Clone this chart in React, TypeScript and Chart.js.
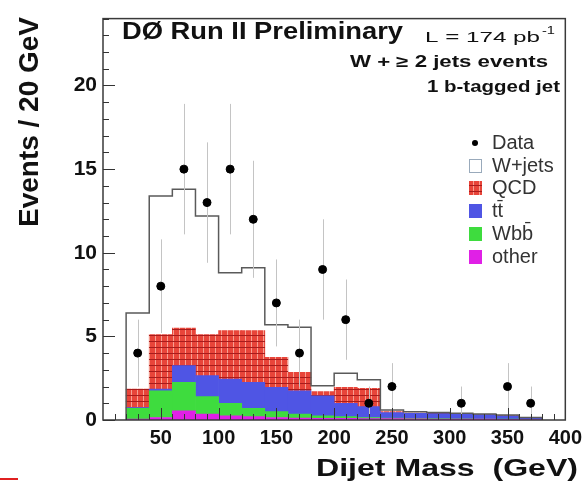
import { useEffect, useRef } from 'react';
import { Chart, registerables } from 'chart.js';

Chart.register(...registerables);

// ---- data ----
const binCenters = [30, 50, 70, 90, 110, 130, 150, 170, 190, 210, 230, 250, 270, 290, 310, 330, 350, 370];
const dataCounts = [4, 8, 15, 13, 15, 12, 7, 4, 9, 6, 1, 2, null, null, 1, null, 2, 1];
const dataErrors = [2.0, 2.8, 3.9, 3.6, 3.9, 3.5, 2.6, 2.0, 3.0, 2.4, 1.0, 1.4, null, null, 1.0, null, 1.4, 1.0];
const otherMC = [0.05, 0.15, 0.55, 0.35, 0.25, 0.2, 0.15, 0.12, 0.1, 0.1, 0.08, 0.08, 0.07, 0.06, 0.05, 0.05, 0.04, 0.02];
const wbbMC = [0.65, 1.6, 1.7, 1.05, 0.75, 0.5, 0.35, 0.23, 0.15, 0.1, 0.07, 0.04, 0.03, 0.02, 0.02, 0.01, 0.01, 0.01];
const ttMC = [0.05, 0.1, 1.0, 1.25, 1.45, 1.55, 1.45, 1.4, 1.2, 0.8, 0.65, 0.33, 0.3, 0.3, 0.28, 0.26, 0.2, 0.07];
const qcdMC = [1.1, 3.25, 2.25, 2.45, 2.9, 3.1, 1.8, 1.1, 0.25, 0.95, 1.1, 0.05, 0.02, 0.02, 0.02, 0.01, 0.01, 0.01];
const wjetsMC = [4.55, 8.3, 8.3, 7.1, 3.45, 3.75, 1.95, 2.7, 0.35, 0.85, 0.5, 0.1, 0.08, 0.05, 0.03, 0.03, 0.04, 0.04];
const BIN_WIDTH = 20;
const legendLabels = ['Data', 'W+jets', 'QCD', 'tt\u0304', 'Wbb\u0304', 'other'];

const COL_OTHER = '#e020e6';
const COL_WBB = '#3edc3e';
const COL_TT = '#4f55e4';
const COL_QCD = '#e8453a';

function makeHatch(): CanvasPattern | string {
  const c = document.createElement('canvas');
  c.width = 6;
  c.height = 6;
  const g = c.getContext('2d');
  if (!g) return COL_QCD;
  g.fillStyle = COL_QCD;
  g.fillRect(0, 0, 6, 6);
  g.fillStyle = '#f6a092';
  g.fillRect(5, 0, 1, 6);
  g.fillStyle = '#a81c1c';
  g.fillRect(0, 5, 6, 1);
  return g.createPattern(c, 'repeat') || COL_QCD;
}

function drawText(ctx: CanvasRenderingContext2D, text: string, x: number, y: number, font: string, align: string, width?: number, color = '#111') {
  ctx.save();
  ctx.font = font;
  ctx.fillStyle = color;
  ctx.textBaseline = 'middle';
  ctx.textAlign = 'left';
  const w = ctx.measureText(text).width;
  const sx = width ? width / w : 1;
  const x0 = align === 'left' ? x : align === 'right' ? x - w * sx : x - (w * sx) / 2;
  ctx.translate(x0, y);
  ctx.scale(sx, 1);
  ctx.fillText(text, 0, 0);
  ctx.restore();
}

export default function App() {
  const ref = useRef<HTMLCanvasElement | null>(null);

  useEffect(() => {
    if (!ref.current) return;
    const bars = (vals: number[]) => binCenters.map((x, i) => ({ x, y: vals[i] }));
    const totals = binCenters.map((_, i) => otherMC[i] + wbbMC[i] + ttMC[i] + qcdMC[i] + wjetsMC[i]);
    const outline: { x: number; y: number }[] = [{ x: binCenters[0] - BIN_WIDTH / 2, y: 0 }];
    binCenters.forEach((c, i) => outline.push({ x: c - BIN_WIDTH / 2, y: totals[i] }));
    outline.push({ x: binCenters[binCenters.length - 1] + BIN_WIDTH / 2, y: 0 });
    const points = binCenters
      .map((x, i) => ({ x, y: dataCounts[i] }))
      .filter((p) => p.y !== null) as { x: number; y: number }[];

    const overlay = {
      id: 'overlay',
      beforeDatasetDraw(chart: any, args: any) {
        if (args.index !== 0) return;
        const { ctx, scales } = chart;
        ctx.save();
        ctx.strokeStyle = '#c4c4c4';
        ctx.lineWidth = 1;
        binCenters.forEach((c, i) => {
          const v = dataCounts[i];
          const e = dataErrors[i];
          if (v === null || e === null) return;
          const px = Math.round(scales.x.getPixelForValue(c)) + 0.5;
          ctx.beginPath();
          ctx.moveTo(px, scales.y.getPixelForValue(Math.max(0, v - e)));
          ctx.lineTo(px, scales.y.getPixelForValue(v + e));
          ctx.stroke();
        });
        ctx.restore();
      },
      afterDatasetsDraw(chart: any) {
        const { ctx, chartArea: a, scales } = chart;
        ctx.save();
        ctx.strokeStyle = '#3a3a3a';
        ctx.lineWidth = 1.5;
        ctx.strokeRect(a.left, a.top, a.right - a.left, a.bottom - a.top);
        ctx.lineWidth = 1;
        ctx.strokeStyle = '#333';
        for (let v = 0; v <= 24; v += 1) {
          const py = Math.round(scales.y.getPixelForValue(v)) + 0.5;
          const len = v % 5 === 0 ? 12 : 6;
          ctx.beginPath();
          ctx.moveTo(a.left, py);
          ctx.lineTo(a.left + len, py);
          ctx.stroke();
        }
        for (let v = 10; v < 400; v += 10) {
          const px = Math.round(scales.x.getPixelForValue(v)) + 0.5;
          const len = v % 50 === 0 ? 12 : 6;
          ctx.beginPath();
          ctx.moveTo(px, a.bottom);
          ctx.lineTo(px, a.bottom - len);
          ctx.stroke();
        }
        ctx.restore();
      },
      afterDraw(chart: any) {
        const { ctx } = chart;
        // header texts
        drawText(ctx, 'D\u00D8 Run II Preliminary', 122, 33, 'bold 23px "Liberation Sans", Arial, sans-serif', 'left', 281);
        drawText(ctx, 'L = 174 pb', 425, 38, '15px "Liberation Sans", Arial, sans-serif', 'left', 115);
        drawText(ctx, '-1', 542, 31, '10px "Liberation Sans", Arial, sans-serif', 'left', 13);
        drawText(ctx, 'W + \u2265 2 jets events', 548, 63, 'bold 16px "Liberation Sans", Arial, sans-serif', 'right', 198);
        drawText(ctx, '1 b-tagged jet', 560, 88, 'bold 16px "Liberation Sans", Arial, sans-serif', 'right', 133);
        // axis titles
        ctx.save();
        ctx.translate(31, 122);
        ctx.rotate(-Math.PI / 2);
        drawText(ctx, 'Events / 20 GeV', 0, 0, 'bold 27px "Liberation Sans", Arial, sans-serif', 'center', 210);
        ctx.restore();
        drawText(ctx, 'Dijet Mass  (GeV)', 578, 469, 'bold 24px "Liberation Sans", Arial, sans-serif', 'right', 262);
        // legend
        const rows = [143, 166, 188, 211, 234, 257];
        const fills: (string | CanvasPattern)[] = ['', '#ffffff', chart.data.datasets[5].backgroundColor, COL_TT, COL_WBB, COL_OTHER];
        rows.forEach((ry, i) => {
          ctx.save();
          if (i === 0) {
            ctx.fillStyle = '#000';
            ctx.beginPath();
            ctx.arc(475, ry, 3, 0, Math.PI * 2);
            ctx.fill();
          } else {
            ctx.fillStyle = fills[i];
            ctx.fillRect(469, ry - 7, 13, 14);
            if (i === 1) {
              ctx.strokeStyle = '#9ab';
              ctx.lineWidth = 1;
              ctx.strokeRect(469.5, ry - 6.5, 12, 13);
            }
          }
          ctx.restore();
          drawText(ctx, legendLabels[i], 492, ry, '20px "Liberation Sans", Arial, sans-serif', 'left', undefined, '#333');
        });
        // small red mark at bottom-left corner
        ctx.save();
        ctx.strokeStyle = '#e02020';
        ctx.lineWidth = 2;
        ctx.beginPath();
        ctx.moveTo(0, 479);
        ctx.lineTo(18, 479);
        ctx.stroke();
        ctx.restore();
      },
    };

    const hatch = makeHatch();
    const chart = new Chart(ref.current, {
      type: 'bar',
      data: {
        datasets: [
          {
            type: 'line',
            label: 'Data',
            data: points,
            showLine: false,
            pointRadius: 4,
            pointBackgroundColor: '#000',
            pointBorderColor: '#000',
            borderColor: '#000',
            stack: 'data',
          } as any,
          {
            type: 'line',
            label: 'W+jets outline',
            data: outline,
            stepped: true,
            borderColor: '#5a5a5a',
            borderWidth: 1.5,
            pointRadius: 0,
            fill: false,
            stack: 'outline',
          } as any,
          { label: 'other', data: bars(otherMC), backgroundColor: COL_OTHER },
          { label: 'Wbb', data: bars(wbbMC), backgroundColor: COL_WBB },
          { label: 'tt', data: bars(ttMC), backgroundColor: COL_TT },
          { label: 'QCD', data: bars(qcdMC), backgroundColor: hatch },
          { label: 'W+jets', data: bars(wjetsMC), backgroundColor: '#ffffff' },
        ],
      },
      options: {
        responsive: false,
        animation: false,
        events: [],
        datasets: { bar: { barPercentage: 1, categoryPercentage: 1, borderWidth: 0 } },
        layout: { padding: { left: 0, top: 13, right: 19, bottom: 0 } },
        plugins: { legend: { display: false }, tooltip: { enabled: false } },
        scales: {
          x: {
            type: 'linear',
            min: 0,
            max: 400,
            stacked: true,
            offset: false,
            grid: { display: false, drawTicks: false },
            border: { display: false },
            ticks: {
              stepSize: 50,
              padding: 6,
              color: '#111',
              font: { family: '"Liberation Sans", Arial, sans-serif', size: 20, weight: 'bold' },
              callback: (v: any) => (v === 0 ? '' : String(v)),
              maxRotation: 0,
              autoSkip: false,
            },
            afterFit: (s: any) => {
              s.height = 68;
            },
          },
          y: {
            min: 0,
            max: 24,
            stacked: true,
            grid: { display: false, drawTicks: false },
            border: { display: false },
            ticks: {
              stepSize: 5,
              includeBounds: false,
              padding: 6,
              color: '#111',
              font: { family: '"Liberation Sans", Arial, sans-serif', size: 21, weight: 'bold' },
            },
            afterFit: (s: any) => {
              s.width = 103;
            },
          },
        },
      },
      plugins: [overlay],
    } as any);
    return () => chart.destroy();
  }, []);

  return (
    <div style={{ position: 'fixed', left: 0, top: 0, width: 588, height: 488, background: '#fff' }}>
      <canvas ref={ref} width={588} height={488} style={{ display: 'block' }} />
    </div>
  );
}
